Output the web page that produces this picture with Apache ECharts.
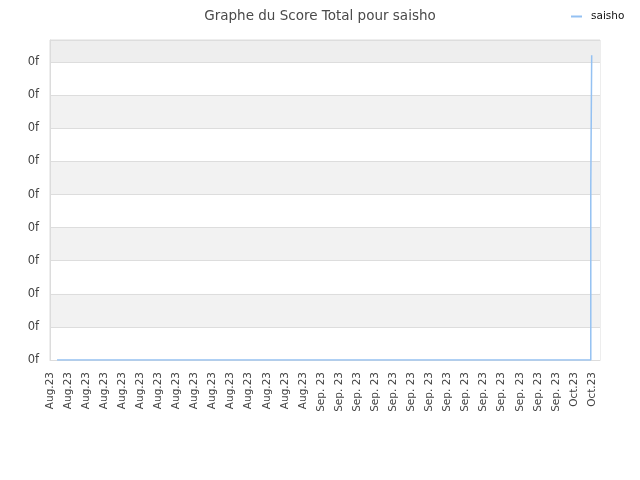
<!DOCTYPE html>
<html>
<head>
<meta charset="utf-8">
<script src="https://cdn.jsdelivr.net/npm/echarts@6/dist/echarts.min.js"></script>
<style>
  html, body { margin: 0; padding: 0; background: #fff; }
  #chart { width: 640px; height: 480px; }
</style>
</head>
<body>
<div id="chart"></div>
<script>
// étiquettes de l'axe des x (une tous les deux jours)
const xLabels = [
  'Aug.23', 'Aug.23', 'Aug.23', 'Aug.23', 'Aug.23', 'Aug.23', 'Aug.23', 'Aug.23',
  'Aug.23', 'Aug.23', 'Aug.23', 'Aug.23', 'Aug.23', 'Aug.23', 'Aug.23',
  'Sep. 23', 'Sep. 23', 'Sep. 23', 'Sep. 23', 'Sep. 23', 'Sep. 23', 'Sep. 23',
  'Sep. 23', 'Sep. 23', 'Sep. 23', 'Sep. 23', 'Sep. 23', 'Sep. 23', 'Sep. 23',
  'Oct.23', 'Oct.23',
];
// position des points (en pas d'étiquette) et score
const scoreX = [0.39, 29.93, 29.93, 29.98, 29.98];
const scoreY = [0, 0, 5.27, 5.27, 9.21];
const yTickLabel = '0f';

const isTick = (v) => Math.abs(v - Math.round(v)) < 1e-6;

const chart = echarts.init(document.getElementById('chart'));
chart.setOption({
  animation: false,
  textStyle: { fontFamily: 'DejaVu Sans' },
  title: {
    text: 'Graphe du Score Total pour saisho',
    left: 'center',
    top: 4,
    textStyle: { fontSize: 13.5, fontWeight: 'normal', color: '#4a4a4a', fontFamily: 'DejaVu Sans' },
  },
  legend: {
    left: 566,
    top: 6,
    itemWidth: 11,
    itemHeight: 2,
    itemGap: 6,
    icon: 'rect',
    textStyle: { fontSize: 10.5, color: '#111', fontFamily: 'DejaVu Sans', padding: [0, 0, 0, 4] },
    data: ['saisho'],
  },
  grid: {
    left: 50,
    right: 40,
    top: 40,
    bottom: 120,
    show: true,
    borderColor: '#dcdcdc',
    borderWidth: 1,
  },
  xAxis: {
    type: 'value',
    min: 0,
    max: 30.44,
    interval: 1,
    axisLine: { show: true, lineStyle: { color: '#dcdcdc' } },
    axisTick: { show: false },
    splitLine: { show: false },
    axisLabel: {
      rotate: 90,
      margin: 12,
      fontSize: 10.5,
      color: '#444',
      showMaxLabel: false,
      formatter: (v) => (isTick(v) && xLabels[Math.round(v)]) || '',
    },
  },
  yAxis: {
    type: 'value',
    min: 0,
    max: 9.67,
    interval: 1,
    axisLine: { show: true, lineStyle: { color: '#dcdcdc' } },
    axisTick: { show: false },
    splitLine: { show: true, lineStyle: { color: '#dddddd' } },
    splitArea: {
      show: true,
      areaStyle: {
        color: ['#ffffff', '#f2f2f2', '#ffffff', '#f2f2f2', '#ffffff',
                '#f2f2f2', '#ffffff', '#f2f2f2', '#ffffff', '#eeeeee'],
      },
    },
    axisLabel: {
      margin: 11,
      fontSize: 11.5,
      color: '#444',
      showMaxLabel: false,
      formatter: (v) => (isTick(v) ? yTickLabel : ''),
    },
  },
  series: [
    {
      name: 'saisho',
      type: 'line',
      showSymbol: false,
      color: '#94c1f2',
      lineStyle: { width: 1.5 },
      data: scoreX.map((x, i) => [x, scoreY[i]]),
    },
  ],
});
</script>
</body>
</html>
